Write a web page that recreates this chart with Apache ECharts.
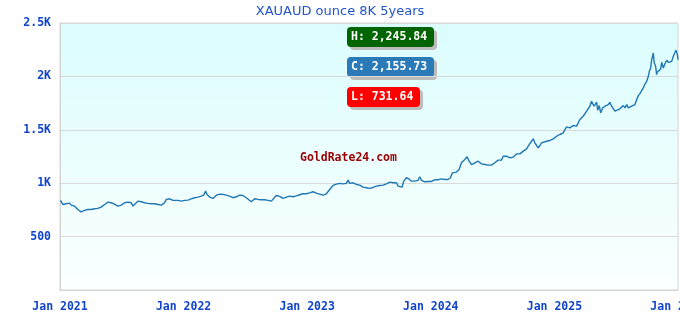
<!DOCTYPE html>
<html>
<head>
<meta charset="utf-8">
<script src="https://cdn.jsdelivr.net/npm/echarts@6/dist/echarts.min.js"></script>
<style>html,body{margin:0;padding:0;background:#fff;}#c{width:680px;height:320px;}</style>
</head>
<body>
<div id="c"></div>
<script>
const titleText = 'XAUAUD ounce 8K 5years';
const watermark = 'GoldRate24.com';
const xTickLabels = ['Jan 2021', 'Jan 2022', 'Jan 2023', 'Jan 2024', 'Jan 2025', 'Jan 2026'];
const yTickLabels = ['', '500', '1K', '1.5K', '2K', '2.5K'];
// time as years elapsed since Jan 2021
const yearOffsets = [
  0.004,0.023,0.050,0.077,0.090,0.117,0.144,0.171,0.198,0.225,0.252,0.279,0.306,0.333,0.361,0.388,0.414,0.441,0.468,0.495,
  0.522,0.549,0.576,0.590,0.603,0.630,0.657,0.684,0.711,0.738,0.765,0.792,0.819,0.846,0.860,0.887,0.914,0.927,0.954,0.981,
  1.008,1.035,1.062,1.089,1.116,1.143,1.162,1.178,1.189,1.211,1.238,1.265,1.291,1.318,1.345,1.372,1.399,1.426,1.453,1.480,
  1.507,1.521,1.548,1.575,1.602,1.629,1.656,1.683,1.710,1.723,1.750,1.777,1.804,1.831,1.858,1.885,1.912,1.939,1.966,1.993,
  2.020,2.047,2.074,2.101,2.128,2.155,2.182,2.209,2.236,2.263,2.290,2.317,2.331,2.344,2.371,2.398,
  2.425,2.452,2.479,2.506,2.533,2.560,2.587,2.614,2.641,2.668,2.695,2.722,2.736,2.749,2.768,2.781,2.803,2.822,2.843,2.870,
  2.897,2.911,2.925,2.951,2.978,3.005,3.032,3.059,3.086,3.113,3.140,3.159,3.175,3.208,3.229,3.248,3.275,3.294,3.310,3.329,
  3.343,3.356,3.383,3.410,3.437,3.464,3.491,3.518,3.545,3.572,3.586,3.613,3.640,3.667,3.694,3.721,3.748,
  3.775,3.788,3.802,3.815,3.829,3.842,3.856,3.869,3.883,3.896,3.910,3.937,3.964,3.991,4.004,4.018,4.045,4.058,4.071,4.085,
  4.099,4.112,4.126,4.139,4.152,4.180,4.193,4.206,4.220,4.233,4.247,4.261,4.274,4.287,4.301,4.309,4.320,4.328,4.342,4.350,
  4.363,4.374,4.390,4.409,4.423,4.436,4.449,4.463,4.476,4.490,4.504,4.530,4.557,4.571,4.585,4.598,4.611,4.625,4.638,4.652,
  4.666,4.679,4.692,4.706,4.719,4.733,4.747,4.760,4.768,4.779,4.787,4.795,4.800,4.808,4.819,4.827,4.832,4.846,4.860,4.868,
  4.881,4.895,4.909,4.922,4.936,4.949,4.962,4.976,4.984,4.995,5.000
];
const prices = [
  839,801,807,814,795,786,754,731.64,745,754,754,761,764,776,801,823,817,804,786,795,
  817,823,817,786,801,832,826,817,811,807,807,801,795,817,848,854,839,854,839,832,
  839,842,854,864,870,879,888,926,895,870,857,888,898,895,888,879,864,873,888,885,
  864,848,826,854,848,845,845,839,832,842,885,876,857,870,879,873,882,892,901,901,
  910,920,907,898,888,901,941,979,991,998,994,998,1029,998,1004,988,
  982,963,957,951,960,973,979,982,994,1010,1004,1004,973,957,963,1019,1051,1041,1019,1019,
  1026,1060,1026,1013,1016,1016,1032,1032,1041,1035,1035,1051,1097,1104,1128,1191,1222,1247,1206,1175,
  1160,1191,1206,1181,1175,1169,1169,1191,1216,1216,1253,1253,1238,1244,1275,1275,1300,
  1322,1347,1372,1393,1415,1378,1353,1331,1353,1378,1362,1393,1400,1415,1424,1440,1456,1449,1471,1502,
  1527,1543,1518,1534,1540,1534,1549,1596,1587,1627,1633,1674,1683,1721,1767,1777,1721,1736,1758,1683,
  1727,1658,1705,1721,1705,1736,1758,1721,1705,1674,1690,1696,1727,1705,1736,1705,1696,1721,1727,1736,
  1783,1820,1839,1845,1892,1929,1954,2001,2048,2079,2157,2194,2219,2126,2095,2017,2039,2048,2070,2132,
  2079,2120,2151,2132,2120,2141,2188,2226,2245.84,2204,2155.73
];

const startYear = 2021;
const fmt = v => v.toLocaleString('en-US', {minimumFractionDigits: 2, maximumFractionDigits: 2});
const hi = Math.max(...prices), lo = Math.min(...prices), cur = prices[prices.length - 1];
const monoFont = '"DejaVu Sans Mono", "Liberation Mono", monospace';

function badge(x, y, w, color, text) {
  return {
    type: 'group', left: x, top: y, z: 100,
    children: [
      {type: 'rect', shape: {x: 3, y: 3, width: w, height: 20, r: 4}, style: {fill: '#bcbcbc'}},
      {type: 'rect', shape: {x: 0, y: 0, width: w, height: 20, r: 4}, style: {fill: color}},
      {type: 'text', x: 4, y: 10, style: {text: text, fill: '#ffffff', font: 'bold 11.5px ' + monoFont, verticalAlign: 'middle', align: 'left'}}
    ]
  };
}

const chart = echarts.init(document.getElementById('c'), null, {renderer: 'canvas'});
chart.setOption({
  animation: false,
  title: {
    text: titleText, left: 'center', top: 0,
    textStyle: {color: '#2255cc', fontSize: 13, fontWeight: 'normal', fontFamily: '"DejaVu Sans", sans-serif'}
  },
  grid: {
    left: 60, right: 2, top: 23, bottom: 30, show: true,
    containLabel: false, outerBoundsMode: 'none',
    borderColor: '#d4d4d4', borderWidth: 1,
    backgroundColor: {type: 'linear', x: 0, y: 0, x2: 0, y2: 1,
      colorStops: [{offset: 0, color: '#dbfdfd'}, {offset: 1, color: '#fbffff'}]}
  },
  xAxis: {
    type: 'value', min: startYear, max: startYear + 5, interval: 1,
    axisLine: {show: true, lineStyle: {color: '#d4d4d4'}},
    axisTick: {show: false},
    splitLine: {show: false},
    axisLabel: {
      margin: 11, color: '#1144cc', fontFamily: monoFont, fontWeight: 'bold', fontSize: 11.5,
      hideOverlap: false,
      formatter: v => xTickLabels[Math.round(v - startYear)] || ''
    }
  },
  yAxis: {
    type: 'value', min: 0, max: 2500, interval: 500,
    axisLine: {show: true, lineStyle: {color: '#d4d4d4'}},
    axisTick: {show: false},
    splitLine: {show: true, lineStyle: {color: '#d9d9d9', width: 1}},
    axisLabel: {
      margin: 9, color: '#1144cc', fontFamily: monoFont, fontWeight: 'bold', fontSize: 11.5,
      formatter: v => yTickLabels[Math.round(v / 500)]
    }
  },
  graphic: [
    {type: 'text', left: 300, top: 152, z: 50,
      style: {text: watermark, fill: '#990000', font: 'bold 11.5px ' + monoFont}},
    badge(347, 27, 87, '#006400', 'H: ' + fmt(hi)),
    badge(347, 57, 87, '#2a7ab8', 'C: ' + fmt(cur)),
    badge(347, 87, 73, '#ff0000', 'L: ' + fmt(lo))
  ],
  series: [{
    type: 'line',
    data: yearOffsets.map((t, i) => [startYear + t, prices[i]]),
    showSymbol: false,
    lineStyle: {color: '#1f77b4', width: 1.4},
    z: 10
  }]
});
</script>
</body>
</html>
